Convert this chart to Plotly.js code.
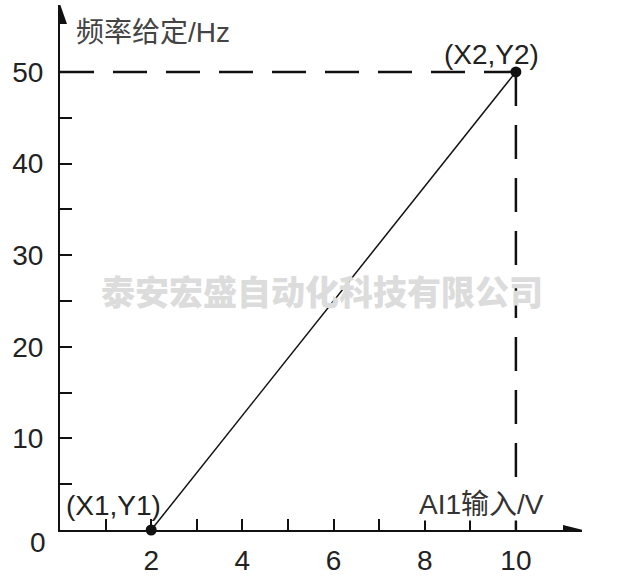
<!DOCTYPE html>
<html>
<head>
<meta charset="utf-8">
<script src="https://cdn.plot.ly/plotly-3.0.1.min.js"></script>
<style>html,body{margin:0;padding:0;background:#fff;}#chart{width:640px;height:578px;}</style>
</head>
<body>
<div id="chart"></div>
<script>
// ---- data ----
const xPoints = [2, 10];
const yPoints = [0, 50];
const pointLabels = ['(X1,Y1)', '(X2,Y2)'];
const xTickVals = [1, 2, 3, 4, 5, 6, 7, 8, 9, 10];
const xTickText = ['', '2', '', '4', '', '6', '', '8', '', '10'];
const yTickVals = [0, 5, 10, 15, 20, 25, 30, 35, 40, 45, 50];
const yTickText = ['', '', '10', '', '20', '', '30', '', '40', '', '50'];
const originLabel = '0';
const xAxisTitle = 'AI1输入/V';
const yAxisTitle = '频率给定/Hz';
const watermark = '泰安宏盛自动化科技有限公司';
const xMax = 11.45;
const yMax = 57.3;

const font = 'Liberation Sans, Arial, Noto Sans CJK SC, sans-serif';
const ink = '#111';
const fs = 28;

const traces = [
  {
    x: [0, xPoints[1]], y: [yPoints[1], yPoints[1]],
    mode: 'lines', line: {color: ink, width: 2.5, dash: '34px,19px'},
    hoverinfo: 'skip', cliponaxis: false
  },
  {
    x: [xPoints[1], xPoints[1]], y: [yPoints[1], 0],
    mode: 'lines', line: {color: ink, width: 2.5, dash: '34px,19px'},
    hoverinfo: 'skip', cliponaxis: false
  },
  {
    x: xPoints, y: yPoints,
    mode: 'lines+markers',
    line: {color: ink, width: 1.5},
    marker: {color: ink, size: 11},
    cliponaxis: false
  }
];

const annotations = [
  {x: xPoints[0], y: yPoints[0], xref: 'x', yref: 'y', text: pointLabels[0], showarrow: false,
   xshift: -38, yshift: 25, font: {family: font, size: fs, color: '#222'}},
  {x: xPoints[1], y: yPoints[1], xref: 'x', yref: 'y', text: pointLabels[1], showarrow: false,
   xshift: -24, yshift: 17, font: {family: font, size: fs, color: '#222'}},
  {x: 0, y: 0, xref: 'x', yref: 'y', text: originLabel, showarrow: false,
   xanchor: 'center', yanchor: 'middle', xshift: -22, yshift: -12, font: {family: font, size: fs, color: '#222'}},
  {x: xPoints[1], y: 0, xref: 'x', yref: 'y', text: xAxisTitle, showarrow: false,
   xanchor: 'center', yanchor: 'middle', xshift: -34, yshift: 26, bgcolor: '#fff', borderpad: 0,
   font: {family: font, size: fs, color: '#333'}},
  {x: 0, y: yMax, xref: 'x', yref: 'y', text: yAxisTitle, showarrow: false,
   xanchor: 'left', yanchor: 'middle', xshift: 14, yshift: -27, font: {family: font, size: fs, color: '#444'}},
  {x: 0.502, y: 0.457, xref: 'paper', yref: 'paper', text: watermark, showarrow: false,
   xanchor: 'center', yanchor: 'middle', font: {family: 'Noto Sans CJK SC, sans-serif', size: 34, color: '#dcdcdc', weight: 900}}
];

const shapes = [
  {type: 'path', xref: 'x', yref: 'y', xsizemode: 'pixel', ysizemode: 'pixel',
   xanchor: xMax, yanchor: 0, path: 'M1,0 L-19,5 L-19,-5 Z', fillcolor: ink, line: {width: 0}},
  {type: 'path', xref: 'x', yref: 'y', xsizemode: 'pixel', ysizemode: 'pixel',
   xanchor: 0, yanchor: yMax, path: 'M0,1 L-7,-19 L7,-19 Z', fillcolor: ink, line: {width: 0}}
];

const layout = {
  width: 640, height: 578,
  margin: {l: 60, r: 58, t: 5, b: 48},
  paper_bgcolor: '#fff', plot_bgcolor: '#fff',
  showlegend: false,
  xaxis: {
    range: [0, xMax], showgrid: false, zeroline: false, showline: true,
    linecolor: ink, linewidth: 2, ticks: 'inside', ticklen: 11, tickwidth: 2, tickcolor: ink,
    tickmode: 'array', tickvals: xTickVals, ticktext: xTickText,
    tickfont: {family: font, size: fs, color: '#222'}, ticklabelstandoff: 4, automargin: false, fixedrange: true
  },
  yaxis: {
    range: [0, yMax], showgrid: false, zeroline: false, showline: true,
    linecolor: ink, linewidth: 2, ticks: 'inside', ticklen: 12, tickwidth: 2, tickcolor: ink,
    tickmode: 'array', tickvals: yTickVals, ticktext: yTickText,
    tickfont: {family: font, size: fs, color: '#222'}, ticklabelstandoff: 9, automargin: false, fixedrange: true
  },
  annotations: annotations,
  shapes: shapes
};

Plotly.newPlot('chart', traces, layout, {displayModeBar: false, staticPlot: true});
</script>
</body>
</html>
